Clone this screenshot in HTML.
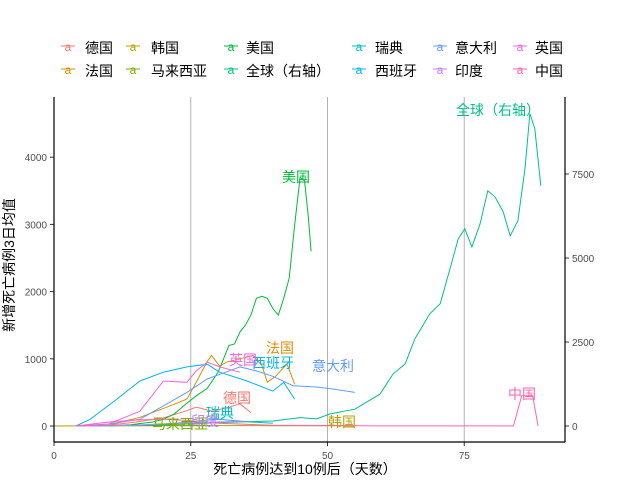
<!DOCTYPE html>
<html><head><meta charset="utf-8"><style>
body{margin:0;background:#fff;font-family:"Liberation Sans","Noto Sans CJK SC",sans-serif;}
svg text{font-family:"Liberation Sans","Noto Sans CJK SC",sans-serif;}
</style></head><body>
<svg id="chart" width="640" height="480" xmlns="http://www.w3.org/2000/svg">
<rect width="640" height="480" fill="#fff"/>
<g id="grid"></g><g id="lines"></g><g id="labels"></g><g id="axes"></g><g id="legend"></g>
</svg>
<script>
const xTicks=[0,25,50,75];
const yLeftTicks=[0,1000,2000,3000,4000];
const yRightTicks=[0,2500,5000,7500];
const names=["德国","法国","韩国","马来西亚","美国","全球（右轴）","瑞典","西班牙","意大利","印度","英国","中国"];
const colors=["#F8766D","#DE8C00","#B79F00","#7CAE00","#00BA38","#00C08B","#00BFC4","#00B4F0","#619CFF","#C77CFF","#F564E3","#FF64B0"];
const germanyDays=[4,10,15,20,24,26,29,32,34,36];
const germanyVals=[0,10,60,120,220,280,220,280,330,200];
const franceDays=[4,10,15.7,20.6,24.3,26,28,28.8,30.3,31.5,34,36.4,38,39,40.5,42.6,44];
const franceVals=[0,10,130,280,400,650,960,1050,890,950,1000,1050,900,650,740,920,620];
const koreaDays=[0,10,20,30,40,50,55];
const koreaVals=[0,5,8,6,5,4,3];
const malaysiaDays=[5,10,20,30];
const malaysiaVals=[0,3,5,3];
const usDays=[10,14,18,20,22,24,26,28,30,32,33,34,35,36,37,38,39,40,41,42,43,44,45,45.8,46.5,47];
const usVals=[0,20,60,100,180,320,450,560,800,1200,1220,1400,1500,1650,1900,1930,1900,1750,1650,1900,2200,3000,3700,3650,3100,2600];
const globalDays=[4,20,30,40,45,48,50.5,55,59.6,62,64.2,66,68.7,70.6,72.4,73.9,75.1,76.4,77.9,79.3,80.6,82.1,83.4,84.8,86.1,87,87.9,89];
const globalVals=[0,30,100,150,250,210,360,500,950,1550,1850,2600,3340,3640,4680,5570,5870,5330,6020,7000,6820,6380,5660,6110,7660,9300,8850,7150];
const swedenDays=[10,20,25,28,30,33,36,40];
const swedenVals=[0,30,60,90,100,80,60,40];
const spainDays=[4,6.6,11.5,15.7,20,24.3,28,30.3,35.3,40,42,44];
const spainVals=[0,100,400,670,800,880,920,800,670,520,650,400];
const italyDays=[4,10,15.7,24.3,28,30.3,34,37,40,43.7,48,51,55];
const italyVals=[0,30,100,500,700,770,880,820,740,600,580,550,500];
const indiaDays=[5,15,20,25,30,35];
const indiaVals=[0,10,30,50,60,70];
const ukDays=[4,10,15.7,20,24.3,26,28,30.3,34];
const ukVals=[0,30,220,670,650,820,950,880,800];
const chinaDays=[4,10,15,20,25,30,40,60,84,85.5,87.5,88.5];
const chinaVals=[0,60,90,100,80,40,10,2,2,450,450,0];
const seriesDays=[germanyDays,franceDays,koreaDays,malaysiaDays,usDays,globalDays,swedenDays,spainDays,italyDays,indiaDays,ukDays,chinaDays];
const seriesVals=[germanyVals,franceVals,koreaVals,malaysiaVals,usVals,globalVals,swedenVals,spainVals,italyVals,indiaVals,ukVals,chinaVals];
const labelPos=[[237,398],[280,348],[342,422],[180,424],[296,177],[498,110],[220,413],[273,363],[333,366],[205,421],[243,360],[522,394]];
const NS="http://www.w3.org/2000/svg";
const X0=54,X1=565,Y0=97,YB=442;
function xs(d){return 54+d*5.47;}
function yl(v){return 426-v*0.0672;}
function yr(v){return 426-v*0.0336;}
function mk(tag,attrs,parent){const e=document.createElementNS(NS,tag);for(const k in attrs)e.setAttribute(k,attrs[k]);parent.appendChild(e);return e;}
const grid=document.getElementById('grid'),lines=document.getElementById('lines'),labels=document.getElementById('labels'),axes=document.getElementById('axes'),legend=document.getElementById('legend');
xTicks.forEach(t=>{if(t>0){const g=mk('line',{x1:xs(t),x2:xs(t),y1:Y0,y2:YB,stroke:'#b3b3b3','stroke-width':1},grid);

}
const tk=mk('line',{x1:xs(t),x2:xs(t),y1:YB,y2:YB+4,stroke:'#333'},axes);


const tl=mk('text',{x:xs(t),y:YB+17,'text-anchor':'middle','font-size':10,fill:'#4d4d4d'},axes);tl.textContent=t;

});
yLeftTicks.forEach(t=>{const tk=mk('line',{x1:X0-4,x2:X0,y1:yl(t),y2:yl(t),stroke:'#333'},axes);


const tl=mk('text',{x:X0-7,y:yl(t)+4,'text-anchor':'end','font-size':10,fill:'#4d4d4d'},axes);tl.textContent=t;

});
yRightTicks.forEach(t=>{const tk=mk('line',{x1:X1,x2:X1+4,y1:yr(t),y2:yr(t),stroke:'#333'},axes);


const tl=mk('text',{x:X1+7,y:yr(t)+4,'text-anchor':'start','font-size':10,fill:'#4d4d4d'},axes);tl.textContent=t;

});
const la=mk('line',{x1:X0,x2:X0,y1:Y0,y2:YB,stroke:'#000','stroke-width':1.2},axes);


const ra=mk('line',{x1:X1,x2:X1,y1:Y0,y2:YB,stroke:'#000','stroke-width':1.2},axes);


const ba=mk('line',{x1:X0,x2:X1,y1:YB,y2:YB,stroke:'#000','stroke-width':1.2},axes);


const xt=mk('text',{x:305,y:474,'text-anchor':'middle','font-size':14,fill:'#000'},axes);xt.textContent='死亡病例达到10例后（天数）';


const yt=mk('text',{x:0,y:0,'text-anchor':'middle','font-size':14,fill:'#000',transform:'translate(14,265) rotate(-90)'},axes);yt.textContent='新增死亡病例3日均值';


names.forEach((n,i)=>{const yf=i===5?yr:yl;
const pts=seriesDays[i].map((d,j)=>xs(d).toFixed(1)+','+yf(seriesVals[i][j]).toFixed(1)).join(' ');
const pl=mk('polyline',{points:pts,fill:'none',stroke:colors[i],'stroke-width':1},lines);


const t=mk('text',{x:labelPos[i][0],y:labelPos[i][1]+5,'text-anchor':'middle','font-size':14,fill:colors[i]},labels);t.textContent=n;


const col=Math.floor(i/2),row=i%2;
const keyX=[68,133,231,359,440,520][col],txX=[85,151,246,375,455,535][col];
const ly=row?70:47;
const g=mk('g',{},legend);


mk('line',{x1:keyX-7,x2:keyX+7,y1:ly-1,y2:ly-1,stroke:colors[i]},g);
const a=mk('text',{x:keyX,y:ly+4,'text-anchor':'middle','font-size':12,fill:colors[i]},g);a.textContent='a';
const lt=mk('text',{x:txX,y:ly+6,'font-size':14,fill:'#000'},g);lt.textContent=n;});
</script>
</body></html>
